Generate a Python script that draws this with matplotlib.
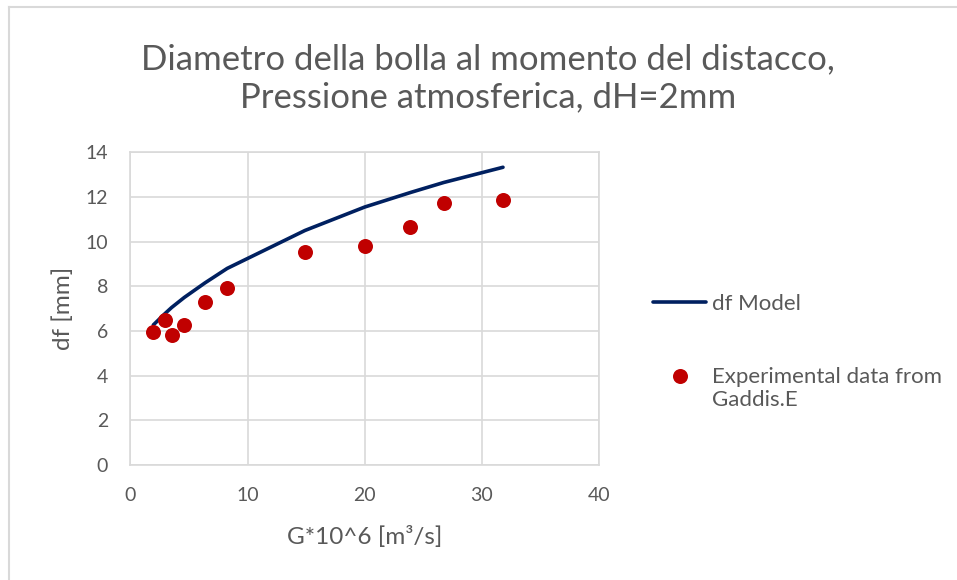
import matplotlib.pyplot as plt
from matplotlib.lines import Line2D

# Portata di gas G*10^6 [m3/s] e diametro della bolla al distacco [mm]
g_exp = [1.96, 2.96, 3.52, 4.6, 6.36, 8.26, 14.9, 20.0, 23.9, 26.75, 31.8]
df_exp = [5.94, 6.49, 5.81, 6.26, 7.29, 7.91, 9.55, 9.79, 10.66, 11.75, 11.85]
df_model = [6.27, 6.78, 7.05, 7.5, 8.15, 8.8, 10.5, 11.55, 12.2, 12.65, 13.33]

x_ticks = [0, 10, 20, 30, 40]
y_ticks = [0, 2, 4, 6, 8, 10, 12, 14]

grey = '#595959'
grid_c = '#d9d9d9'
plt.rcParams['font.family'] = ['Lato', 'DejaVu Sans']

fig = plt.figure(figsize=(9.57, 5.80), dpi=100)
ax = fig.add_axes([0.1362, 0.1983, 0.4898, 0.5391])

ax.plot(g_exp, df_model, color='#002060', lw=2.6, solid_capstyle='round',
        label='df Model', zorder=3)
ax.plot(g_exp, df_exp, 'o', color='#c00000', ms=10.8, mec='none',
        label='Experimental data from\nGaddis.E', zorder=4)

ax.set_xlim(0, 40)
ax.set_ylim(0, 14)
ax.set_xticks(x_ticks)
ax.set_yticks(y_ticks)
ax.grid(True, color=grid_c, lw=1.2)
ax.set_axisbelow(True)
for s in ax.spines.values():
    s.set_color(grid_c)
    s.set_linewidth(1.2)
ax.tick_params(length=0, labelsize=14, colors=grey)
ax.tick_params(axis='x', pad=16)
ax.tick_params(axis='y', pad=16)

ax.set_xlabel('G*10^6 [m³/s]', fontsize=17.5, color=grey, labelpad=16)
ax.set_ylabel('df [mm]', fontsize=17.5, color=grey, labelpad=8)

fig.text(0.51, 0.865, 'Diametro della bolla al momento del distacco,\nPressione atmosferica, dH=2mm',
         ha='center', va='center', fontsize=25, color=grey, linespacing=1.25)

leg = ax.legend(loc='upper left', bbox_to_anchor=(0.6616, 0.528), bbox_transform=fig.transFigure,
                frameon=False, fontsize=16, handlelength=2.4, handletextpad=0.25,
                labelspacing=2.4, labelcolor=grey)
# keep the marker level with the first line of its two-line label
h = leg.legend_handles[1]
h.set_ydata([y + 9 for y in h.get_ydata()])

# chart area border (top and left edges)
fig.add_artist(Line2D([9 / 957, 1], [1 - 7 / 580, 1 - 7 / 580], color=grid_c, lw=1.5,
                      transform=fig.transFigure))
fig.add_artist(Line2D([9 / 957, 9 / 957], [0, 1 - 7 / 580], color=grid_c, lw=1.5,
                      transform=fig.transFigure))

fig.savefig('out.png', dpi=100)
